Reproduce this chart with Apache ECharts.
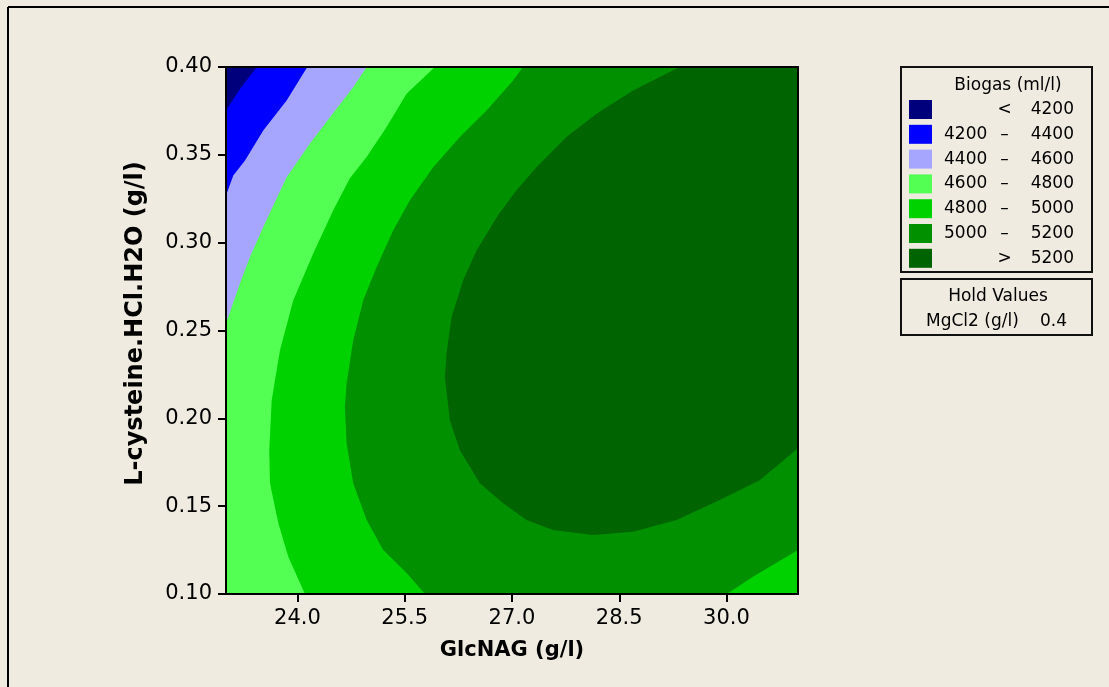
<!DOCTYPE html>
<html>
<head>
<meta charset="utf-8">
<script src="https://cdn.jsdelivr.net/npm/echarts@6/dist/echarts.min.js"></script>
<style>html,body{margin:0;padding:0;background:#efebe1;}#c{width:1109px;height:687px;}</style>
</head>
<body>
<div id="c"></div>
<script>
// ---- data ----
const xName = 'GlcNAG (g/l)';
const yName = 'L-cysteine.HCl.H2O (g/l)';
const xRange = [23, 31];
const yRange = [0.10, 0.40];
const xTicks = [24.0, 25.5, 27.0, 28.5, 30.0];
const yTicks = [0.10, 0.15, 0.20, 0.25, 0.30, 0.35, 0.40];
const legendTitle = 'Biogas (ml/l)';
const bandNames = ['< 4200', '4200 – 4400', '4400 – 4600', '4600 – 4800', '4800 – 5000', '5000 – 5200', '> 5200'];
const bandColors = ['#00007d', '#0000ff', '#a6a6ff', '#54ff54', '#00d200', '#009000', '#006400'];
const holdTitle = 'Hold Values';
const holdName = 'MgCl2 (g/l)';
const holdValue = '0.4';

// contour lines (GlcNAG, L-cysteine)
const c4200 = [[23.43, 0.400], [23.20, 0.3878], [23.00, 0.3753]];
const c4400 = [[24.137, 0.400], [23.848, 0.3809], [23.521, 0.3639], [23.266, 0.3468], [23.102, 0.3383], [23.00, 0.3269]];
const c4600 = [[24.967, 0.400], [24.779, 0.3885], [24.454, 0.3714], [24.174, 0.3565], [23.848, 0.3373], [23.545, 0.3110],
  [23.335, 0.2918], [23.196, 0.2769], [23.032, 0.2577], [23.00, 0.2547]];
const c4800 = [[25.921, 0.400], [25.526, 0.3848], [25.246, 0.3658], [24.967, 0.3487], [24.733, 0.3366], [24.500, 0.3184],
  [24.220, 0.2939], [23.941, 0.2672], [23.755, 0.2388], [23.639, 0.2103], [23.605, 0.1819], [23.615, 0.1631],
  [23.731, 0.1404], [23.871, 0.1212], [24.104, 0.100]];
const c5000a = [[27.152, 0.400], [27.016, 0.3923], [26.644, 0.3753], [26.271, 0.3601], [25.898, 0.3430], [25.572, 0.3241],
  [25.339, 0.3070], [25.107, 0.2861], [24.919, 0.2672], [24.779, 0.2445], [24.687, 0.2200], [24.663, 0.2065],
  [24.687, 0.1859], [24.779, 0.1631], [24.967, 0.1421], [25.199, 0.1250], [25.526, 0.1119], [25.782, 0.100]];
const c5000b = [[30.003, 0.100], [30.371, 0.1098], [31.00, 0.1250]];
const c5200 = [[29.346, 0.400], [28.693, 0.3866], [28.182, 0.3734], [27.762, 0.3601], [27.343, 0.3430], [27.063, 0.3298],
  [26.802, 0.3155], [26.504, 0.2956], [26.317, 0.2786], [26.155, 0.2577], [26.085, 0.2371], [26.061, 0.2236],
  [26.131, 0.1990], [26.271, 0.1819], [26.551, 0.1631], [26.876, 0.1516], [27.203, 0.1421], [27.575, 0.1364],
  [28.134, 0.1336], [28.693, 0.1354], [29.300, 0.1421], [29.905, 0.1535], [30.464, 0.1648], [31.00, 0.1829]];

// ---- build filled regions (value below each level) ----
const TL = [xRange[0], yRange[1]], BL = [xRange[0], yRange[0]], BR = [xRange[1], yRange[0]], TR = [xRange[1], yRange[1]];
const bandPolys = [
  [[TL].concat(c4200)],
  [[TL].concat(c4400)],
  [[TL].concat(c4600)],
  [[TL].concat(c4800, [BL])],
  [[TL].concat(c5000a, [BL]), c5000b.concat([BR])],
  [[TL].concat(c5200, [BR, BL])],
  [[BL, BR, TR, TL]]
];

const series = [];
for (let i = bandNames.length - 1; i >= 0; i--) {
  const polys = bandPolys[i];
  const color = bandColors[i];
  series.push({
    type: 'custom',
    name: bandNames[i],
    coordinateSystem: 'cartesian2d',
    data: polys[0],
    encode: {x: 0, y: 1},
    itemStyle: {color: color},
    silent: true,
    clip: true,
    renderItem: function (params, api) {
      if (params.dataIndex !== 0) return null;
      return {
        type: 'group',
        children: polys.map(function (poly) {
          return {type: 'polygon', shape: {points: poly.map(function (p) { return api.coord(p); })},
            style: {fill: color}};
        })
      };
    }
  });
}

const FONT = 'DejaVu Sans';
const LF = 17;
const chart = echarts.init(document.getElementById('c'), null, {renderer: 'canvas'});
const frameLine = {show: true, onZero: false, lineStyle: {color: '#000', width: 2}};
chart.setOption({
  backgroundColor: '#efebe1',
  animation: false,
  grid: {left: 226, top: 67, right: 311, bottom: 93, containLabel: false},
  xAxis: [{
    type: 'value', min: xRange[0], max: xRange[1], position: 'bottom', z: 10,
    axisLine: frameLine,
    axisTick: {show: true, customValues: xTicks, length: 8, lineStyle: {color: '#000', width: 2}},
    axisLabel: {customValues: xTicks, formatter: function (v) { return v.toFixed(1); }, margin: 14,
      fontFamily: FONT, fontSize: 21, color: '#000'},
    splitLine: {show: false},
    name: xName, nameLocation: 'middle', nameGap: 46,
    nameTextStyle: {fontFamily: FONT, fontSize: 21, fontWeight: 'bold', color: '#000'}
  }, {
    type: 'value', min: xRange[0], max: xRange[1], position: 'top', z: 10,
    axisLine: frameLine, axisTick: {show: false}, axisLabel: {show: false}, splitLine: {show: false}
  }],
  yAxis: [{
    type: 'value', min: yRange[0], max: yRange[1], position: 'left', z: 10,
    axisLine: frameLine,
    axisTick: {show: true, customValues: yTicks, length: 8, lineStyle: {color: '#000', width: 2}},
    axisLabel: {customValues: yTicks, formatter: function (v) { return v.toFixed(2); }, margin: 14,
      fontFamily: FONT, fontSize: 21, color: '#000'},
    splitLine: {show: false},
    name: yName, nameLocation: 'middle', nameGap: 78, nameRotate: 90,
    nameTextStyle: {fontFamily: FONT, fontSize: 24, fontWeight: 'bold', color: '#000', padding: [0, 0, 0, 14]}
  }, {
    type: 'value', min: yRange[0], max: yRange[1], position: 'right', z: 10,
    axisLine: frameLine, axisTick: {show: false}, axisLabel: {show: false}, splitLine: {show: false}
  }],
  legend: {
    orient: 'vertical', left: 909, top: 100, itemWidth: 23, itemHeight: 19, itemGap: 5.8,
    icon: 'rect', selectedMode: false, padding: 0, itemTextGap: 5,
    data: bandNames.slice(),
    formatter: function (name) {
      const parts = name.split(' ');
      if (parts.length === 2) return '{a|}{b|' + parts[0] + '}{c|' + parts[1] + '}';
      return '{a|' + parts[0] + '}{b|' + parts[1] + '}{c|' + parts[2] + '}';
    },
    textStyle: {
      fontFamily: FONT, fontSize: LF, color: '#000',
      rich: {
        a: {width: 43, padding: [0, 0, 0, 7], fontFamily: FONT, fontSize: LF, color: '#000'},
        b: {width: 35, align: 'center', fontFamily: FONT, fontSize: LF, color: '#000'},
        c: {width: 52, align: 'right', fontFamily: FONT, fontSize: LF, color: '#000'}
      }
    }
  },
  graphic: [
    {type: 'line', shape: {x1: 8, y1: 7, x2: 1109, y2: 7}, style: {stroke: '#000', lineWidth: 2}},
    {type: 'line', shape: {x1: 8, y1: 7, x2: 8, y2: 687}, style: {stroke: '#000', lineWidth: 2}},
    {type: 'rect', shape: {x: 901, y: 67, width: 191, height: 205}, style: {fill: 'none', stroke: '#111', lineWidth: 2}},
    {type: 'text', style: {x: 1008, y: 86, text: legendTitle, textAlign: 'center', textVerticalAlign: 'middle',
      font: LF + 'px "DejaVu Sans"', fill: '#000'}},
    {type: 'rect', shape: {x: 901, y: 279, width: 191, height: 56}, style: {fill: 'none', stroke: '#111', lineWidth: 2}},
    {type: 'text', style: {x: 998, y: 297, text: holdTitle, textAlign: 'center', textVerticalAlign: 'middle',
      font: LF + 'px "DejaVu Sans"', fill: '#000'}},
    {type: 'text', style: {x: 926, y: 322, text: holdName, textAlign: 'left', textVerticalAlign: 'middle',
      font: LF + 'px "DejaVu Sans"', fill: '#000'}},
    {type: 'text', style: {x: 1040, y: 322, text: holdValue, textAlign: 'left', textVerticalAlign: 'middle',
      font: LF + 'px "DejaVu Sans"', fill: '#000'}}
  ],
  series: series
});
</script>
</body>
</html>
